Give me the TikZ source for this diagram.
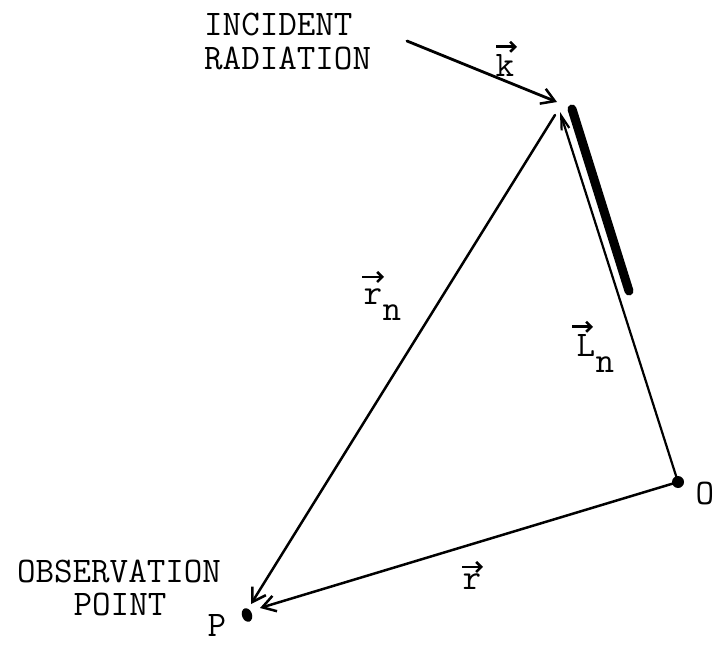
\documentclass[tikz,border=0pt]{standalone}
\usepackage{fontspec}
\usetikzlibrary{arrows.meta,shapes.geometric}
\begin{document}
\begin{tikzpicture}[x=1pt,y=-1pt,
  lbl/.style={font=\ttfamily\fontsize{36}{40}\selectfont, inner sep=0pt},
  vecline/.style={line width=2.5pt, line cap=round,
    -{Straight Barb[length=13pt,width=16pt,line width=2.5pt]}},
  narrowvec/.style={line width=2.2pt, line cap=round,
    -{Straight Barb[length=14pt,width=8pt,line width=2.2pt]}},
  ovarr/.style={line width=2.8pt,
    -{Straight Barb[length=5pt,width=10pt,line width=2.6pt]}},
  dot/.style={circle, fill=black, inner sep=0pt, minimum size=12pt},
  bar/.style={line width=9pt, line cap=round}
]
\useasboundingbox (0,0) rectangle (716,645);

% text labels
\node[lbl, anchor=west] (inc) at (204,25) {INCIDENT};
\node[lbl, anchor=west] (rad) at (204,58) {RADIATION};
\node[lbl] (obs) at (119,571) {OBSERVATION};
\node[lbl] (pnt) at (120,604) {POINT};
\node[lbl] (Plbl) at (217,625) {P};
\node[lbl] (Olbl) at (705,493) {O};

% points
\node[dot] (O) at (678,482) {};
\node[ellipse, fill=black, inner sep=0pt, minimum width=10pt, minimum height=14pt, rotate=20] (P) at (247,615) {};

% helper coordinates
\coordinate (kstart) at (407,41);
\coordinate (ktip) at (557,102);
\coordinate (rnstart) at (555,115);
\coordinate (rntip) at (251,604);
\coordinate (Ltip) at (560,112);
\coordinate (rtip) at (260,608);
\coordinate (barA) at (572,109);
\coordinate (barB) at (629,291);

% connectors
\draw[vecline, line width=2.8pt] (kstart) -- (ktip);
\draw[vecline] (rnstart) -- (rntip);
\draw[narrowvec] (O.center) -- (Ltip);
\draw[vecline] (O.center) -- (rtip);
\draw[bar] (barA) -- (barB);

% vector labels
\node[lbl] (k) at (505,66) {k};
\draw[ovarr] ([xshift=-9pt,yshift=8pt]k.north) -- ++(21,0);

\node[lbl] (rn) at (373,297) {r};
\node[lbl, anchor=base west] (rnsub) at ([yshift=-16pt]rn.base east) {n};
\draw[ovarr] ([xshift=-11pt,yshift=12pt]rn.north) -- ++(22,0);

\node[lbl] (Ln) at (586,345) {L};
\node[lbl, anchor=base west] (Lnsub) at ([yshift=-17pt]Ln.base east) {n};
\draw[ovarr] ([xshift=-14pt,yshift=7pt]Ln.north) -- ++(21,0);

\node[lbl] (r) at (472,582) {r};
\draw[ovarr] ([xshift=-10pt,yshift=7pt]r.north) -- ++(21,0);
\end{tikzpicture}
\end{document}
